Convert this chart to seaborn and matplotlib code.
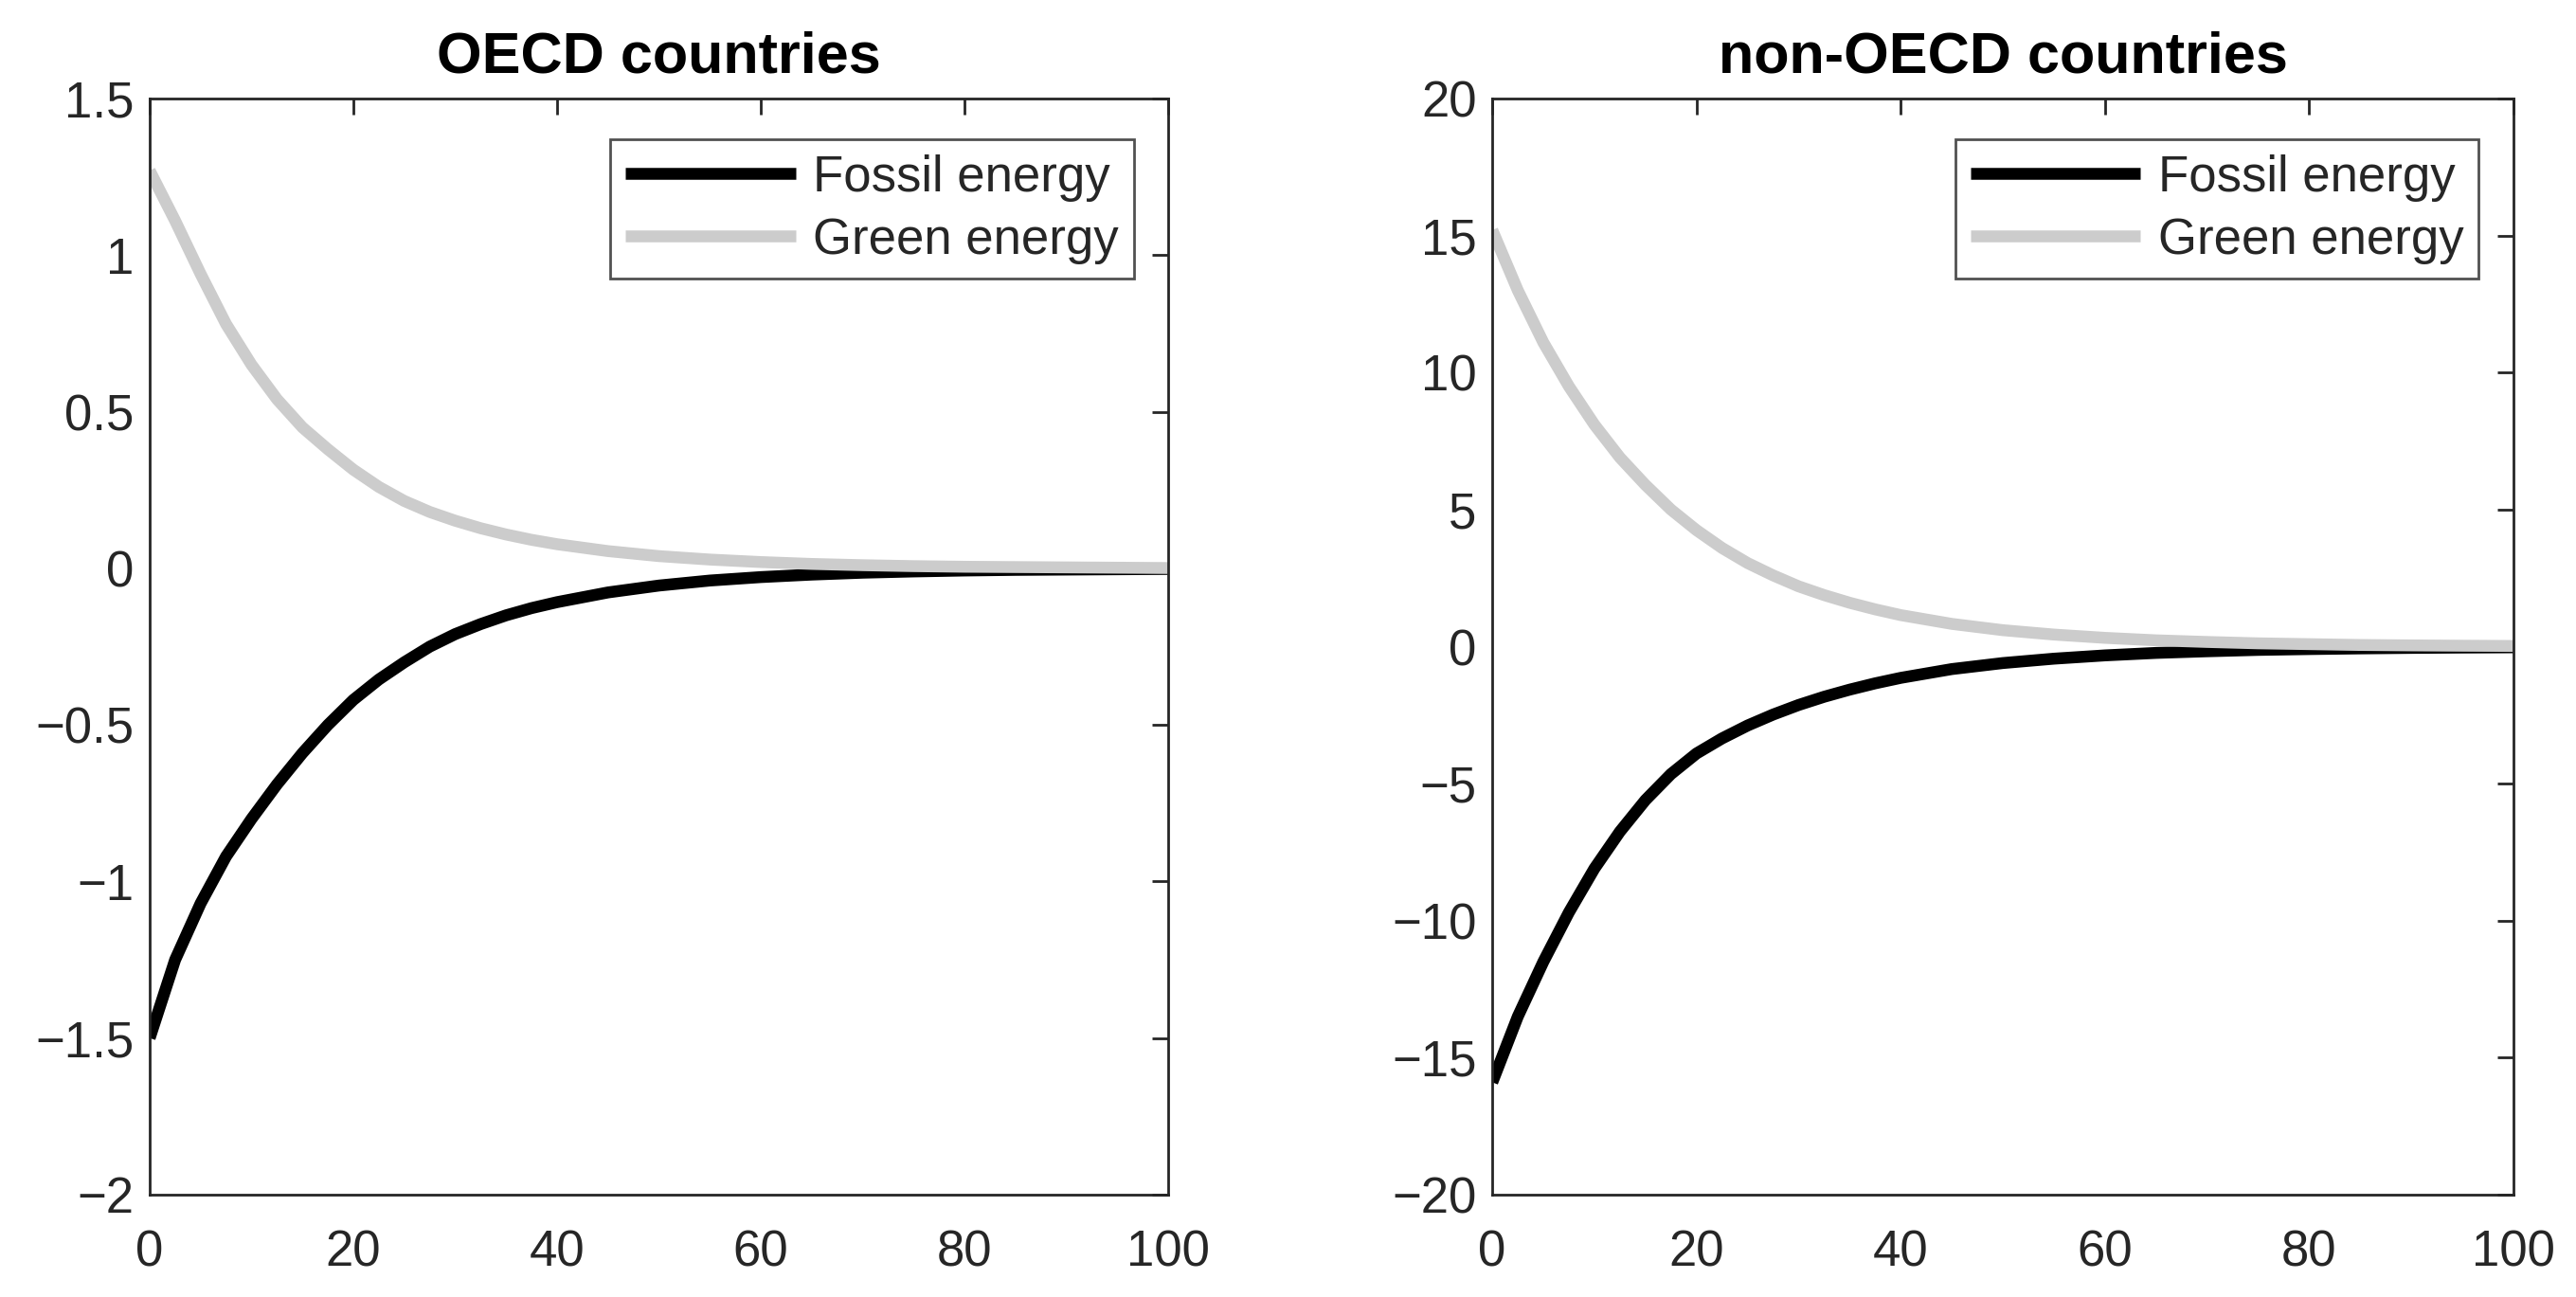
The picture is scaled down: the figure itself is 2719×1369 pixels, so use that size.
import numpy as np
import pandas as pd
import matplotlib
matplotlib.use("Agg")
import matplotlib.pyplot as plt
import seaborn as sns

# periods (denser where the curves bend)
periods = [0, 2.5, 5, 7.5, 10, 12.5, 15, 17.5, 20, 22.5, 25, 27.5, 30, 32.5, 35, 37.5, 40,
           45, 50, 55, 60, 65, 70, 75, 80, 85, 90, 95, 100]

# OECD countries
oecd_fossil = [-1.50, -1.25, -1.07, -0.92, -0.80, -0.69, -0.59, -0.50, -0.42, -0.355, -0.30,
               -0.25, -0.21, -0.178, -0.15, -0.127, -0.108,
               -0.077, -0.055, -0.039, -0.028, -0.02, -0.014, -0.01, -0.007, -0.005, -0.004,
               -0.003, -0.002]
oecd_green = [1.27, 1.11, 0.94, 0.78, 0.65, 0.54, 0.45, 0.38, 0.315, 0.26, 0.215,
              0.18, 0.152, 0.128, 0.108, 0.091, 0.077,
              0.055, 0.039, 0.028, 0.02, 0.014, 0.01, 0.007, 0.005, 0.004, 0.003,
              0.002, 0.001]

# non-OECD countries
non_fossil = [-15.9, -13.5, -11.5, -9.7, -8.1, -6.75, -5.6, -4.65, -3.9, -3.35, -2.88,
              -2.48, -2.13, -1.83, -1.57, -1.34, -1.14,
              -0.82, -0.6, -0.44, -0.32, -0.23, -0.17, -0.12, -0.09, -0.065, -0.047,
              -0.034, -0.025]
non_green = [15.2, 13.0, 11.1, 9.5, 8.1, 6.9, 5.9, 5.0, 4.25, 3.6, 3.05,
             2.6, 2.2, 1.88, 1.6, 1.36, 1.15,
             0.83, 0.6, 0.44, 0.32, 0.23, 0.17, 0.12, 0.09, 0.06, 0.045,
             0.033, 0.024]

series_names = ["Fossil energy", "Green energy"]
palette = {"Fossil energy": "#000000", "Green energy": "#cccccc"}

panels = [
    ("OECD countries", oecd_fossil, oecd_green, (-2, 1.5), np.arange(-2, 1.51, 0.5)),
    ("non-OECD countries", non_fossil, non_green, (-20, 20), np.arange(-20, 21, 5)),
]

sns.set_style("white")
plt.rcParams["font.family"] = ["Liberation Sans", "DejaVu Sans"]

fig = plt.figure(figsize=(27.19, 13.69), dpi=100)
ax_pos = [
    [0.0581, 0.0789, 0.3954, 0.8451],
    [0.5793, 0.0789, 0.3964, 0.8451],
]

edge = "#262626"
lw = 9.0

for pos, (title, fossil, green, ylim, yticks) in zip(ax_pos, panels):
    ax = fig.add_axes(pos)
    df = pd.DataFrame({
        "t": periods + periods,
        "value": fossil + green,
        "series": ["Fossil energy"] * len(periods) + ["Green energy"] * len(periods),
    })
    sns.lineplot(data=df, x="t", y="value", hue="series", hue_order=series_names,
                 palette=palette, linewidth=lw, solid_capstyle="butt",
                 solid_joinstyle="round", ax=ax)

    ax.set_xlim(0, 100)
    ax.set_ylim(*ylim)
    ax.set_xticks(np.arange(0, 101, 20))
    ax.set_yticks(yticks)
    ax.set_yticklabels([f"{v:g}".replace("-", "\u2212") for v in yticks])
    ax.set_xlabel("")
    ax.set_ylabel("")
    ax.set_title(title, fontsize=44, fontweight="bold", pad=20, color="black")

    for s in ax.spines.values():
        s.set_color(edge)
        s.set_linewidth(2.0)
    ax.tick_params(axis="both", direction="in", length=12, width=2.0, colors=edge,
                   labelcolor=edge, labelsize=38, top=True, right=True)
    ax.tick_params(axis="x", pad=26)
    ax.tick_params(axis="y", pad=12)

    leg = ax.legend(loc="upper right", bbox_to_anchor=(0.966, 0.963), fontsize=38,
                    frameon=True, fancybox=False, handlelength=3.4, borderpad=0.3,
                    labelspacing=0.3, handletextpad=0.35, borderaxespad=0)
    leg.get_frame().set_edgecolor(edge)
    leg.get_frame().set_linewidth(2.0)
    for line in leg.get_lines():
        line.set_linewidth(lw)
        line.set_solid_capstyle("butt")

plt.savefig("out.png", dpi=100)
plt.close(fig)
